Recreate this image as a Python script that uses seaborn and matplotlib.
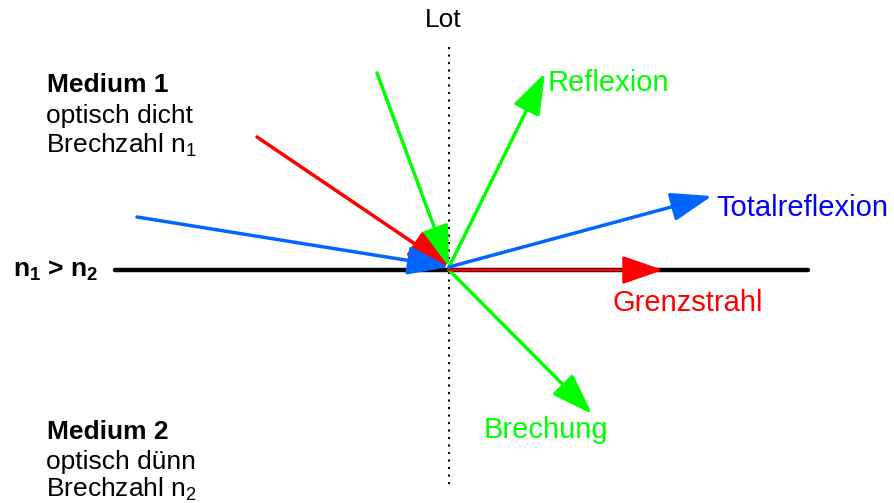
import matplotlib
matplotlib.use("Agg")
import matplotlib.pyplot as plt
import seaborn as sns
import pandas as pd

sns.set_theme(style="white")
plt.rcParams['font.family'] = ['Liberation Sans', 'DejaVu Sans']
plt.rcParams['mathtext.fontset'] = 'custom'
plt.rcParams['mathtext.rm'] = 'Liberation Sans'
plt.rcParams['mathtext.bf'] = 'Liberation Sans:bold'
plt.rcParams['mathtext.default'] = 'regular'

# rays in picture pixel coordinates (origin of the rays at the interface point)
ray_names = ['green_in', 'green_refl', 'green_refr', 'red_in', 'red_grenz', 'blue_in', 'blue_total']
ray_x0 = [377, 449, 449, 257, 449, 137, 449]
ray_y0 = [73, 267, 270, 137, 270, 217, 267]
ray_x1 = [449, 545, 592, 449, 663, 449, 712]
ray_y1 = [267, 73, 414, 267, 270, 267, 196]
ray_colors = ['#00FF00', '#00FF00', '#00FF00', '#FF0000', '#FF0000', '#0066FF', '#0066FF']
ray_lw = [2.5, 2.5, 2.5, 2.5, 2.0, 2.5, 2.5]

# interface and normal (Lot)
boundary_x = [115, 808]
boundary_y = [270, 270]
lot_x = [449, 449]
lot_y = [47, 485]

# labels
labels = ['Reflexion', 'Totalreflexion', 'Grenzstrahl', 'Brechung']
label_x = [548, 716, 613, 484]
label_y = [91, 216, 311, 438]
label_colors = ['#00FF00', '#0000FF', '#FF0000', '#00FF00']

side_text = ['Medium 1', 'optisch dicht', 'Brechzahl n$_1$',
             'Medium 2', 'optisch dünn', 'Brechzahl n$_2$']
side_x = [47, 46, 46, 47, 46, 46]
side_y = [92, 123, 153, 439, 469, 497]
side_weight = ['bold', 'normal', 'normal', 'bold', 'normal', 'normal']

fig = plt.figure(figsize=(8.94, 5.03), dpi=100)
ax = fig.add_axes([0, 0, 1, 1])

bd = pd.DataFrame({'x': boundary_x, 'y': boundary_y})
sns.lineplot(data=bd, x='x', y='y', color='black', linewidth=3.2, ax=ax)
lt = pd.DataFrame({'x': lot_x, 'y': lot_y})
sns.lineplot(data=lt, x='x', y='y', color='black', linewidth=1.5, ax=ax,
             estimator=None, sort=False, linestyle=(0, (1, 2.6)))

for i in range(len(ray_names)):
    ax.annotate('', xy=(ray_x1[i], ray_y1[i]), xytext=(ray_x0[i], ray_y0[i]),
                arrowprops=dict(arrowstyle='-|>,head_length=1.15,head_width=0.4',
                                mutation_scale=22, color=ray_colors[i],
                                lw=ray_lw[i], shrinkA=0, shrinkB=0))

for t, x, y, c in zip(labels, label_x, label_y, label_colors):
    ax.text(x, y, t, color=c, fontsize=21, va='baseline', ha='left')

for t, x, y, w in zip(side_text, side_x, side_y, side_weight):
    ax.text(x, y, t, color='black', fontsize=19, fontweight=w, va='baseline', ha='left')

ax.text(443, 27, 'Lot', color='black', fontsize=19, va='baseline', ha='center')
ax.text(13, 277, 'n$_1$ > n$_2$', color='black', fontsize=19, fontweight='bold',
        va='baseline', ha='left')

ax.set_xlim(0, 894)
ax.set_ylim(503, 0)
ax.axis('off')

fig.savefig('out.png', dpi=100)
